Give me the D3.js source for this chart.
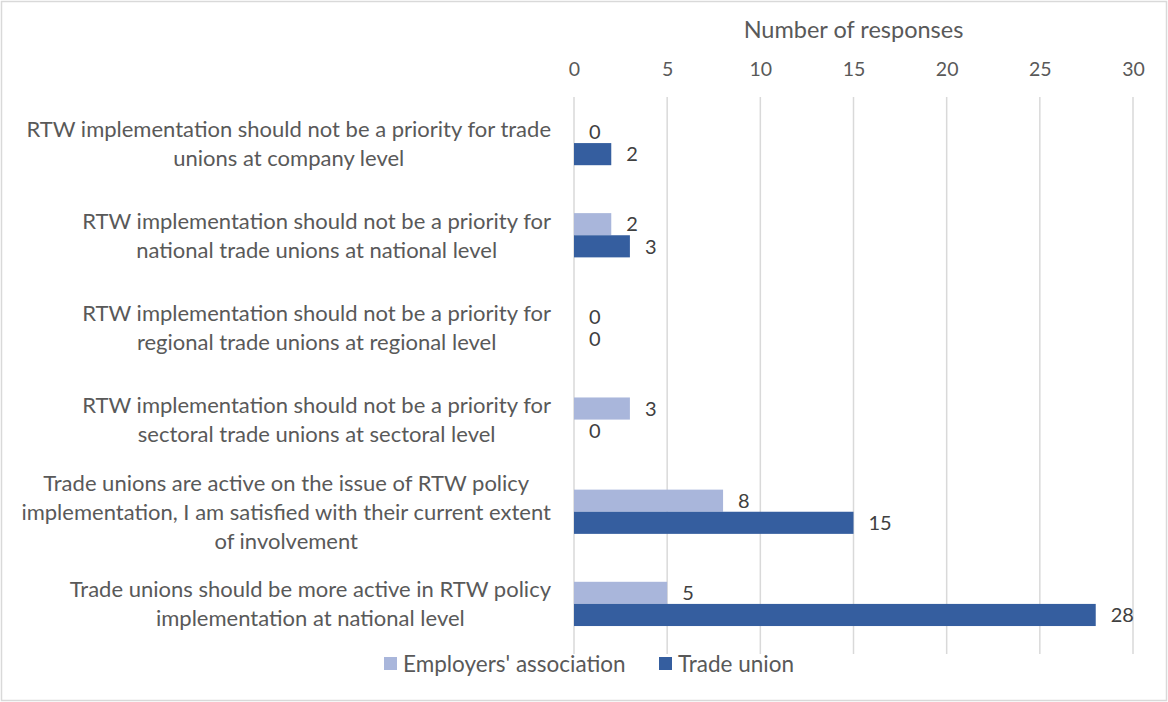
<!DOCTYPE html>
<html><head><meta charset="utf-8">
<script src="https://cdn.jsdelivr.net/npm/d3@7"></script>
<style>
body{margin:0;background:#fff;}
svg{display:block;font-family:Lato,"Open Sans",sans-serif;}
</style></head>
<body><svg id="c" width="1168" height="702"></svg>
<script>
const categories = [
  ["RTW implementation should not be a priority for trade","unions at company level"],
  ["RTW implementation should not be a priority for","national trade unions at national level"],
  ["RTW implementation should not be a priority for","regional trade unions at regional level"],
  ["RTW implementation should not be a priority for","sectoral trade unions at sectoral level"],
  ["Trade unions are active on the issue of RTW policy","implementation, I am satisfied with their current extent","of involvement"],
  ["Trade unions should be more active in RTW policy","implementation at national level"]
];
const seriesNames = ["Employers' association","Trade union"];
const employers = [0,2,0,3,8,5];
const tradeUnion = [2,3,0,0,15,28];
const xTicks = [0,5,10,15,20,25,30];
const colors = ["#A9B6DB","#355E9F"];
const axisTitle = "Number of responses";

const svg = d3.select("#c");
svg.append("rect").attr("x",1.5).attr("y",1.5).attr("width",1165).attr("height",699)
  .attr("fill","#fff").attr("stroke","#D9D9D9").attr("stroke-width",1.5);

const x = d3.scaleLinear().domain([0,30]).range([574,1133]);
const y0 = d3.scaleBand().domain(d3.range(categories.length)).range([97,650]).paddingInner(0.52).paddingOuter(0.26);
const y1 = d3.scaleBand().domain([0,1]).range([0,y0.bandwidth()]);

// grid
svg.append("g").selectAll("line").data(xTicks).join("line")
  .attr("x1",d=>x(d)).attr("x2",d=>x(d)).attr("y1",97).attr("y2",654)
  .attr("stroke","#D9D9D9").attr("stroke-width",1.5);

// top axis labels
const ax = d3.axisTop(x).tickValues(xTicks).tickSize(0).tickPadding(0);
const axg = svg.append("g").attr("transform","translate(0,76)").call(ax);
axg.select(".domain").remove();
axg.selectAll("text").attr("font-size",19.5).attr("fill","#595959").attr("font-family","Lato");

svg.append("text").attr("x",(x(0)+x(30))/2).attr("y",38).attr("text-anchor","middle")
  .attr("font-size",23.5).attr("fill","#595959").text(axisTitle);

// bars
const data = categories.map((c,i)=>[employers[i],tradeUnion[i]]);
const groups = svg.append("g").selectAll("g").data(data).join("g")
  .attr("transform",(d,i)=>`translate(0,${y0(i)})`);
groups.selectAll("rect").data(d=>d).join("rect")
  .attr("x",x(0)).attr("y",(d,j)=>y1(j)).attr("width",d=>x(d)-x(0)).attr("height",y1.bandwidth())
  .attr("fill",(d,j)=>colors[j]);
groups.selectAll("text").data(d=>d).join("text")
  .attr("x",d=>x(d)+15).attr("y",(d,j)=>y1(j)+y1.bandwidth()/2).attr("dy","0.36em")
  .attr("font-size",20).attr("fill","#404040").text(d=>d);

// category labels
const lh = 29;
categories.forEach((lines,i)=>{
  const cy = y0(i)+y0.bandwidth()/2;
  const g = svg.append("g");
  const t = g.selectAll("text").data(lines).join("text")
    .attr("y",(d,k)=>cy+(k-(lines.length-1)/2)*lh).attr("dy","0.36em")
    .attr("font-size",22).attr("fill","#595959").attr("text-anchor","middle").text(d=>d);
  let maxW = 0; t.each(function(){maxW=Math.max(maxW,this.getComputedTextLength());});
  t.attr("x",551-maxW/2);
});

// legend
const leg = [{x:384},{x:659}];
seriesNames.forEach((n,j)=>{
  svg.append("rect").attr("x",leg[j].x).attr("y",657).attr("width",13).attr("height",13).attr("fill",colors[j]);
  svg.append("text").attr("x",leg[j].x+19).attr("y",664).attr("dy","0.36em")
    .attr("font-size",22.5).attr("fill","#595959").text(n);
});
</script></body></html>
